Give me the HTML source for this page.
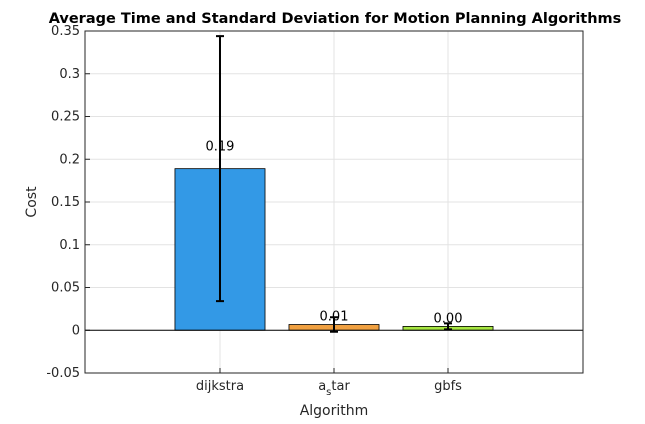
<!DOCTYPE html>
<html><head><meta charset="utf-8"><style>
body{margin:0;background:#fff;font-family:"DejaVu Sans","Liberation Sans",sans-serif}
</style></head><body>
<svg id="chart" width="645" height="420" xmlns="http://www.w3.org/2000/svg" font-family="DejaVu Sans, Liberation Sans, sans-serif">
<rect width="645" height="420" fill="#fff"/>
<g id="grid"></g>
<g id="bars"></g>
<g id="axes"></g>
<text x="335" y="23" text-anchor="middle" font-size="14.5" font-weight="bold">Average Time and Standard Deviation for Motion Planning Algorithms</text>
<text x="334" y="415" text-anchor="middle" font-size="14" fill="#262626">Algorithm</text>
<text transform="translate(36,202) rotate(-90)" text-anchor="middle" font-size="14" fill="#262626">Cost</text>
</svg>
<script>
const categories=["dijkstra","a_star","gbfs"];
const means=[0.189,0.0067,0.0045];
const stds=[0.155,0.0085,0.0035];
const valueLabels=["0.19","0.01","0.00"];
const yTicks=[-0.05,0,0.05,0.1,0.15,0.2,0.25,0.3,0.35];
const colors=["#3399e6","#f0a040","#a6e640"];
const L=85,R=583,T=31,B=373,yMin=-0.05,yMax=0.35,xMin=-0.184,xMax=4.184;
const y=v=>B-(v-yMin)/(yMax-yMin)*(B-T);
const x=i=>L+(i+1-xMin)/(xMax-xMin)*(R-L);
const bw=0.79*(R-L)/(xMax-xMin);
const NS="http://www.w3.org/2000/svg";
function mk(p,t,a,txt){const e=document.createElementNS(NS,t);for(const k in a)e.setAttribute(k,a[k]);if(txt!==undefined)e.textContent=txt;document.getElementById(p).appendChild(e);return e;}
yTicks.forEach(v=>{
 const g=mk("grid","line",{x1:L,x2:R,y1:y(v),y2:y(v),stroke:"#e3e3e3","stroke-width":1});
 
 
 const t=mk("axes","text",{x:L-5,y:y(v)+4,"text-anchor":"end","font-size":13,fill:"#262626"},String(v));
 
 
 mk("axes","line",{x1:L,x2:L+5,y1:y(v),y2:y(v),stroke:"#262626"});
});
categories.forEach((c,i)=>{
 const g=mk("grid","line",{x1:x(i),x2:x(i),y1:T,y2:B,stroke:"#e3e3e3"});
 
 
 mk("axes","line",{x1:x(i),x2:x(i),y1:B,y2:B-5,stroke:"#262626"});
 const t=mk("axes","text",{x:x(i),y:B+17,"text-anchor":"middle","font-size":13,fill:"#262626"});
 
 
 if(c.includes("_")){const p=c.split("_");t.textContent=p[0];const s=document.createElementNS(NS,"tspan");s.setAttribute("dy","5");s.setAttribute("font-size","10");s.textContent=p[1][0];t.appendChild(s);const r=document.createElementNS(NS,"tspan");r.setAttribute("dy","-5");r.textContent=p[1].slice(1);t.appendChild(r);}else t.textContent=c;
 const b=mk("bars","rect",{x:x(i)-bw/2,y:Math.min(y(means[i]),y(0)),width:bw,height:Math.abs(y(0)-y(means[i])),fill:colors[i],stroke:"#000","stroke-width":0.8});
 
 
 const hi=y(means[i]+stds[i]),lo=y(means[i]-stds[i]);
 const e=mk("bars","path",{d:`M${x(i)},${hi}V${lo}M${x(i)-4},${hi}H${x(i)+4}M${x(i)-4},${lo}H${x(i)+4}`,stroke:"#000","stroke-width":2,fill:"none"});
 
 
 const vl=mk("bars","text",{x:x(i),y:y(means[i])-(i==0?18:4),"text-anchor":"middle","font-size":13},valueLabels[i]);
 
 
});
mk("axes","line",{x1:L,x2:R,y1:y(0),y2:y(0),stroke:"#000"});
mk("axes","rect",{x:L,y:T,width:R-L,height:B-T,fill:"none",stroke:"#262626"});
</script>
</body></html>
